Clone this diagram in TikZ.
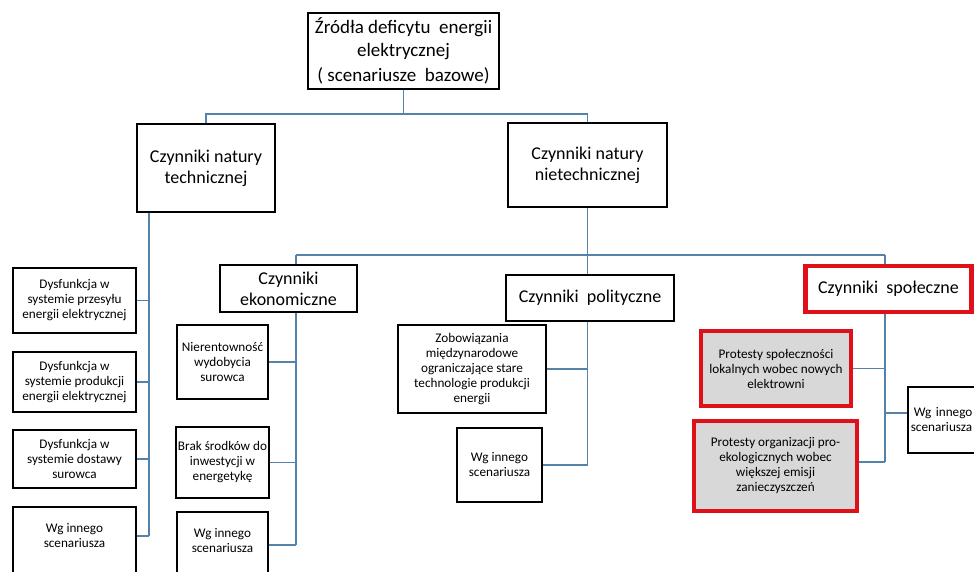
\documentclass[tikz,border=0pt]{standalone}
\usepackage{fontspec}
\setmainfont{Carlito}
\definecolor{linkblue}{RGB}{84,130,168}
\definecolor{alertred}{RGB}{224,16,26}
\definecolor{softgrey}{RGB}{216,216,216}
\tikzset{
  box/.style={draw=black, fill=white, line width=1.6pt, inner sep=2pt, align=center},
  headbox/.style={box, line width=2.2pt, font=\fontsize{18}{21}\selectfont},
  leafbox/.style={box, font=\fontsize{13.2}{15}\selectfont},
  redhead/.style={headbox, draw=alertred, line width=4.5pt},
  redleaf/.style={leafbox, draw=alertred, fill=softgrey, line width=4.5pt},
  link/.style={draw=linkblue, line width=1.5pt},
}
\begin{document}
\begin{tikzpicture}[x=1pt,y=-1pt]
\useasboundingbox (0,0) rectangle (974,572);
\fill[white] (0,0) rectangle (974,572);
\clip (0,0) rectangle (974,572);

% x positions of the vertical spines and the two horizontal buses
\coordinate (techspine) at (149,0);
\coordinate (econspine) at (296,0);
\coordinate (polspine) at (587.5,0);
\coordinate (socspine) at (885,0);
\coordinate (rootfoot) at (403.5,114);
\coordinate (bus2L) at (296,255);
\coordinate (bus2R) at (885,255);

% ---- boxes
\node[box, line width=2.4pt, minimum width=191pt, minimum height=76pt,
      font=\fontsize{19}{23}\selectfont] (root) at (403.5,51)
  {Źródła deficytu\ \ energii\\elektrycznej\\[2pt]( scenariusze\ \ bazowe)};

\node[headbox, minimum width=138pt, minimum height=88pt] (tech) at (206,168)
  {Czynniki natury\\technicznej};
\node[headbox, minimum width=159pt, minimum height=84pt] (nontech) at (587.5,165)
  {Czynniki natury\\nietechnicznej};

\node[leafbox, minimum width=123pt, minimum height=65pt] (L1) at (74.5,300.5)
  {Dysfunkcja w\\systemie przesyłu\\energii elektrycznej};
\node[leafbox, minimum width=123pt, minimum height=60pt] (L2) at (74.5,382)
  {Dysfunkcja w\\systemie produkcji\\energii elektrycznej};
\node[leafbox, minimum width=123pt, minimum height=58pt] (L3) at (74.5,459)
  {Dysfunkcja w\\systemie dostawy\\surowca};
\node[leafbox, minimum width=123pt, minimum height=83pt, text depth=26pt] (L4) at (74.5,548.5)
  {Wg innego\\scenariusza};

\node[headbox, line width=1.8pt, minimum width=137pt, minimum height=47pt] (econ) at (288.5,288.5)
  {Czynniki\\ekonomiczne};
\node[leafbox, minimum width=91pt, minimum height=74pt] (E1) at (222.5,362)
  {Nierentowność\\wydobycia\\surowca};
\node[leafbox, minimum width=91pt, minimum height=71pt] (E2) at (222.5,462.5)
  {Brak środków do\\inwestycji w\\energetykę};
\node[leafbox, minimum width=91pt, minimum height=78pt, text depth=22pt] (E3) at (222.5,551)
  {Wg innego\\scenariusza};

\node[headbox, line width=1.8pt, minimum width=168pt, minimum height=46pt] (pol) at (590,298)
  {Czynniki\ \ polityczne};
\node[leafbox, minimum width=148pt, minimum height=88pt] (P1) at (472,369)
  {Zobowiązania\\międzynarodowe\\ograniczające stare\\technologie produkcji\\energii};
\node[leafbox, minimum width=85pt, minimum height=74pt] (P2) at (499.5,465)
  {Wg innego\\scenariusza};

\node[redhead, minimum width=166pt, minimum height=46pt] (soc) at (888.5,289)
  {Czynniki\ \ społeczne};
\node[redleaf, minimum width=150pt, minimum height=75pt] (S1) at (776,368.5)
  {Protesty społeczności\\lokalnych wobec nowych\\elektrowni};
\node[redleaf, minimum width=163pt, minimum height=90pt] (S2) at (775.5,466)
  {Protesty organizacji pro-\\ekologicznych wobec\\większej emisji\\zanieczyszczeń};
\node[leafbox, minimum width=93pt, minimum height=66pt, anchor=west, text width=87pt, align=left] (S3) at (907,420)
  {\hspace*{3pt}Wg innego\\scenariusza};

% ---- connectors
\path[link] (root.south) -- (rootfoot);
\path[link] (tech.north) |- (rootfoot) -| (nontech.north);

% technical branch
\path[link] (techspine |- tech.south) -- (techspine |- 0,536);
\path[link] (L1.east) -- (L1.east -| techspine);
\path[link] (L2.east) -- (L2.east -| techspine);
\path[link] (L3.east) -- (L3.east -| techspine);
\path[link] (L4.east |- 0,536) -- (techspine |- 0,536);

% non-technical bus
\path[link] (nontech.south) -- (nontech.south |- bus2L);
\path[link] (bus2L) -- (bus2R);
\path[link] (bus2L) -- (bus2L |- econ.north);
\path[link] (polspine |- bus2L) -- (polspine |- pol.north);
\path[link] (bus2R) -- (bus2R |- soc.north);

% economic branch
\path[link] (econspine |- econ.south) -- (econspine |- 0,545);
\path[link] (E1.east) -- (E1.east -| econspine);
\path[link] (E2.east) -- (E2.east -| econspine);
\path[link] (E3.east |- 0,545) -- (econspine |- 0,545);

% political branch
\path[link] (polspine |- pol.south) -- (polspine |- P2.east);
\path[link] (P1.east) -- (P1.east -| polspine);
\path[link] (P2.east) -- (P2.east -| polspine);

% social branch
\path[link] (socspine |- soc.south) -- (socspine |- 0,462);
\path[link] (S1.east) -- (S1.east -| socspine);
\path[link] (S2.east |- 0,462) -- (socspine |- 0,462);
\path[link] (S3.west |- 0,413) -- (socspine |- 0,413);
\end{tikzpicture}
\end{document}
